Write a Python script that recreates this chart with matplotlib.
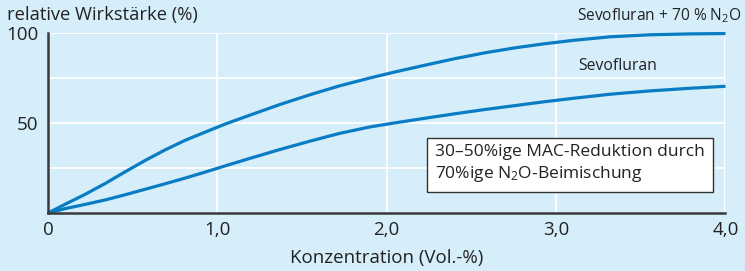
import matplotlib
matplotlib.use("Agg")
import matplotlib.pyplot as plt

plt.rcParams['font.family'] = ['Open Sans', 'DejaVu Sans']
plt.rcParams['mathtext.fontset'] = 'custom'
plt.rcParams['mathtext.rm'] = 'Open Sans'
plt.rcParams['mathtext.it'] = 'Open Sans'
plt.rcParams['mathtext.default'] = 'regular'

# Data
x_upper = [0.0, 0.10, 0.22, 0.34, 0.45, 0.57, 0.69, 0.81, 0.93, 1.04, 1.19, 1.37, 1.55, 1.72,
           1.90, 2.05, 2.23, 2.40, 2.58, 2.76, 2.93, 3.10, 3.32, 3.55, 3.79, 4.0]
sevo_n2o = [0.0, 4.8, 10.4, 16.5, 22.6, 29.0, 35.0, 40.4, 45.0, 49.2, 54.3, 60.3, 65.8, 70.6,
            75.0, 78.4, 82.2, 85.7, 89.0, 91.8, 94.0, 95.9, 97.9, 99.0, 99.5, 99.7]
x_lower = [0.0, 0.10, 0.22, 0.34, 0.45, 0.57, 0.69, 0.81, 0.93, 1.04, 1.19, 1.37, 1.55, 1.72,
           1.90, 2.05, 2.23, 2.40, 2.58, 2.76, 2.93, 3.10, 3.32, 3.55, 3.79, 4.0]
sevo = [0.0, 2.4, 4.8, 7.3, 10.0, 13.1, 16.2, 19.4, 22.8, 26.0, 30.3, 35.3, 40.0, 44.2,
        47.8, 50.1, 52.7, 55.1, 57.5, 59.7, 61.8, 63.7, 66.0, 67.8, 69.3, 70.4]
x_ticks = [0, 1, 2, 3, 4]
x_ticklabels = ['0', '1,0', '2,0', '3,0', '4,0']
y_ticks = [50, 100]
y_ticklabels = ['50', '100']
y_grid = [25, 50, 75, 100]

bg = '#d5eefa'
blue = '#0a7cc4'
dark = '#3a3a3a'
txt = '#222222'

fig = plt.figure(figsize=(7.45, 2.71), dpi=100, facecolor=bg)
ax = fig.add_axes([48/745, 1-213/271, (725.5-48)/745, (213-33)/271])
ax.set_facecolor(bg)
ax.set_xlim(0, 4)
ax.set_ylim(0, 100)

for gx in x_ticks[1:]:
    ax.axvline(gx, color='white', lw=1.3, zorder=1)
for gy in y_grid:
    ax.axhline(gy, color='white', lw=1.3, zorder=1)

ax.plot(x_upper, sevo_n2o, color=blue, lw=2.3, zorder=3, clip_on=False,
        solid_capstyle='butt', solid_joinstyle='round')
ax.plot(x_lower, sevo, color=blue, lw=2.3, zorder=3, clip_on=False,
        solid_capstyle='butt', solid_joinstyle='round')

for s in ['top', 'right']:
    ax.spines[s].set_visible(False)
for s in ['left', 'bottom']:
    ax.spines[s].set_color(dark)
    ax.spines[s].set_linewidth(1.8)
    ax.spines[s].set_zorder(4)

ax.set_xticks(x_ticks)
ax.set_xticklabels(x_ticklabels)
ax.set_yticks(y_ticks)
ax.set_yticklabels(y_ticklabels)
ax.tick_params(length=0, labelsize=13.5, colors=txt, pad=6)
ax.tick_params(axis='y', pad=7)

ax.set_xlabel('Konzentration (Vol.-%)', fontsize=13.5, color=txt, labelpad=7)

fig.text(7/745, 1-15/271, 'relative Wirkstärke (%)', fontsize=13.2, color=txt, va='center', ha='left')

fig.text(741/745, 1-16/271, 'Sevofluran + 70 % N$_2$O', fontsize=11.2, color=txt, va='center', ha='right')
fig.text(578/745, 1-66/271, 'Sevofluran', fontsize=11.3, color=txt, va='center', ha='left')

fig.text(435/745, 1-164/271, '30–50%ige MAC-Reduktion durch\n70%ige N$_2$O-Beimischung', fontsize=12.5,
         color=txt, va='center', ha='left', linespacing=1.3,
         bbox=dict(boxstyle='square,pad=0.45', facecolor='white', edgecolor='#333333', lw=1.0))

fig.savefig('out.png', dpi=100, facecolor=bg)
